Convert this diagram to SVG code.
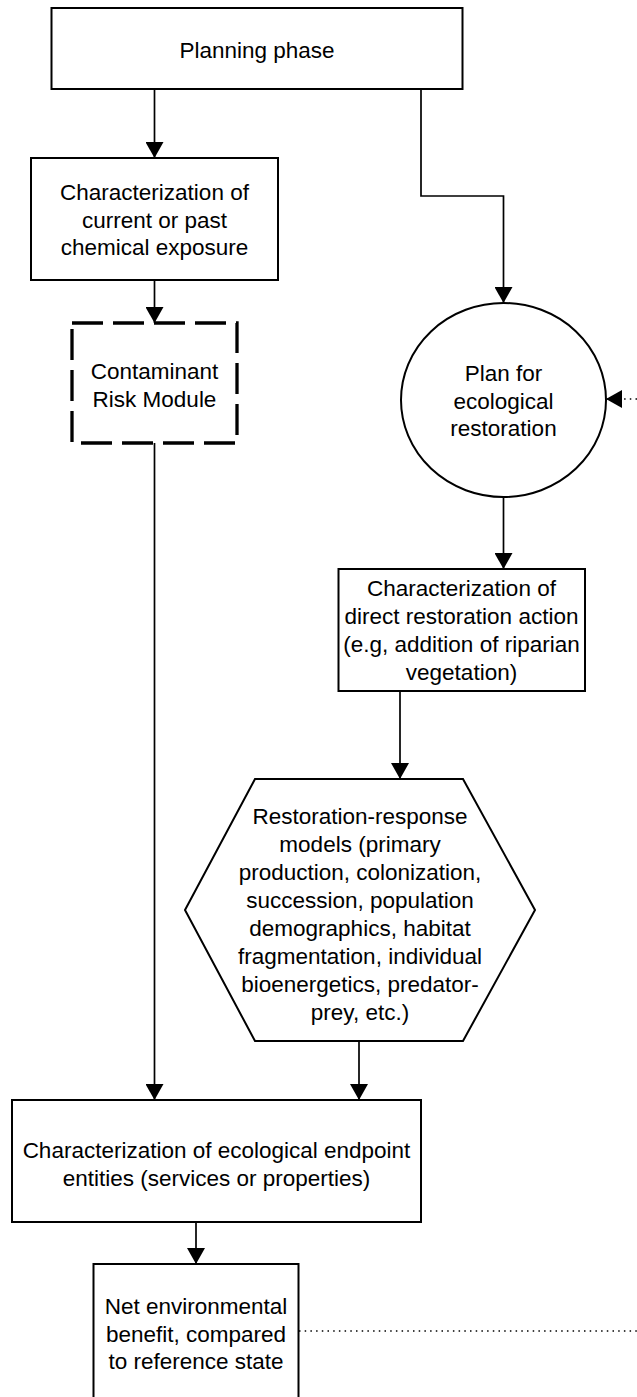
<svg xmlns="http://www.w3.org/2000/svg" width="637" height="1397" viewBox="0 0 637 1397">
<style>
.n{fill:#fff;stroke:#000;stroke-width:2}
.d{fill:#fff;stroke:#000;stroke-width:3.3;stroke-dasharray:31 10}
.c{fill:none;stroke:#000;stroke-width:1.7}
.dot{fill:none;stroke:#000;stroke-width:1.5;stroke-dasharray:1.5 4.2}
text{font-family:"Liberation Sans",Arial,sans-serif;font-size:22.5px;text-anchor:middle;fill:#000}
</style>
<defs>
<marker id="ah" markerUnits="userSpaceOnUse" markerWidth="16" markerHeight="18" refX="16" refY="9" orient="auto">
<path d="M0,0 L16,9 L0,18 Z" fill="#000"/>
</marker>
</defs>
<rect width="637" height="1397" fill="#fff"/>
<g id="connectors">
<path class="c" d="M154.5,89 V158" marker-end="url(#ah)"/>
<path class="c" d="M421,89 V196 H503.5 V303" marker-end="url(#ah)"/>
<path class="c" d="M154.5,280 V323" marker-end="url(#ah)"/>
<path class="c" d="M154.5,443 V1100" marker-end="url(#ah)"/>
<path class="c" d="M503.5,497 V569" marker-end="url(#ah)"/>
<path class="c" d="M400,691 V779" marker-end="url(#ah)"/>
<path class="c" d="M359,1041 V1100" marker-end="url(#ah)"/>
<path class="c" d="M196,1222 V1264" marker-end="url(#ah)"/>
<path class="dot" d="M299,1331 H637"/>
<path class="dot" d="M637,399 H606" marker-end="url(#ah)"/>
</g>
<g id="planning">
<rect class="n" x="51.5" y="8" width="411" height="81"/>
<text x="257" y="57.5">Planning phase</text>
</g>
<g id="chem-exposure">
<rect class="n" x="31" y="158" width="247" height="122"/>
<text x="154.5" y="200">Characterization of</text>
<text x="154.5" y="227.5">current or past</text>
<text x="154.5" y="255">chemical exposure</text>
</g>
<g id="contaminant-risk">
<rect class="d" x="72" y="323" width="165" height="120"/>
<text x="154.5" y="379">Contaminant</text>
<text x="154.5" y="407">Risk Module</text>
</g>
<g id="plan-restoration">
<ellipse class="n" cx="503.5" cy="400" rx="102.5" ry="97"/>
<text x="503.5" y="381">Plan for</text>
<text x="503.5" y="408.5">ecological</text>
<text x="503.5" y="436">restoration</text>
</g>
<g id="restoration-action">
<rect class="n" x="338.5" y="569" width="246.5" height="122"/>
<text x="461.5" y="596">Characterization of</text>
<text x="461.5" y="624">direct restoration action</text>
<text x="461.5" y="652">(e.g, addition of riparian</text>
<text x="461.5" y="680">vegetation)</text>
</g>
<g id="response-models">
<polygon class="n" points="255,779 463,779 535,910 463,1041 255,1041 185,910"/>
<text x="360" y="823.5">Restoration-response</text>
<text x="360" y="851.5">models (primary</text>
<text x="360" y="879.5">production, colonization,</text>
<text x="360" y="907.5">succession, population</text>
<text x="360" y="935.5">demographics, habitat</text>
<text x="360" y="963.5">fragmentation, individual</text>
<text x="360" y="991.5">bioenergetics, predator-</text>
<text x="360" y="1019.5">prey, etc.)</text>
</g>
<g id="endpoint-entities">
<rect class="n" x="12" y="1100" width="409" height="122"/>
<text x="216.5" y="1158">Characterization of ecological endpoint</text>
<text x="216.5" y="1186">entities (services or properties)</text>
</g>
<g id="net-benefit">
<rect class="n" x="93.5" y="1264" width="205" height="140"/>
<text x="196" y="1314">Net environmental</text>
<text x="196" y="1341.5">benefit, compared</text>
<text x="196" y="1369">to reference state</text>
</g>
</svg>
